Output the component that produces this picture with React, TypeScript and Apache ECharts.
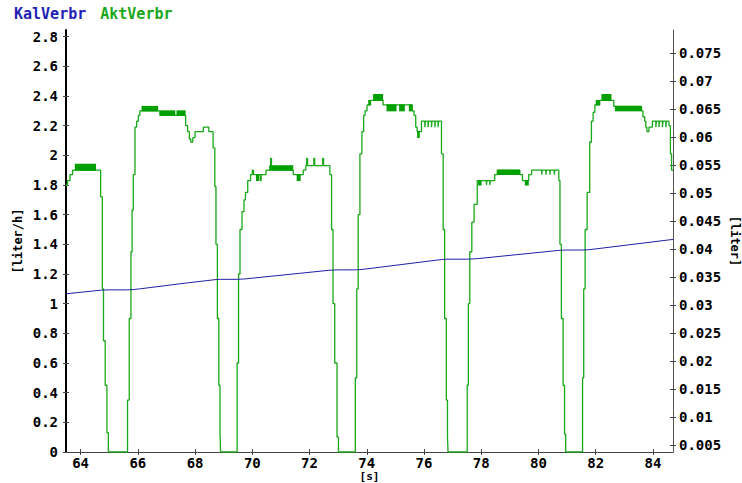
import React, { useEffect, useRef } from 'react';
import * as echarts from 'echarts';

// ---- data ----
const xTicks = [64, 66, 68, 70, 72, 74, 76, 78, 80, 82, 84];
const leftTicks = [0, 0.2, 0.4, 0.6, 0.8, 1, 1.2, 1.4, 1.6, 1.8, 2, 2.2, 2.4, 2.6, 2.8];
const rightTicks = [0.005, 0.01, 0.015, 0.02, 0.025, 0.03, 0.035, 0.04, 0.045, 0.05, 0.055, 0.06, 0.065, 0.07, 0.075];

// KalVerbr [s, liter]
const kalVerbr: [number, number][] = [
  [63.49, 0.0320], [64.73, 0.03265], [64.97, 0.0327], [65.64, 0.0327], [65.84, 0.03275],
  [66.10, 0.0329], [67.67, 0.03391], [68.73, 0.03454], [68.89, 0.03458], [69.47, 0.03458],
  [69.74, 0.03465], [72.71, 0.03621], [72.99, 0.03627], [73.60, 0.03627], [73.83, 0.03634],
  [76.62, 0.03812], [76.84, 0.03818], [77.51, 0.03818], [77.86, 0.03827], [80.71, 0.03975],
  [80.95, 0.03981], [81.54, 0.03981], [81.79, 0.03988], [84.70, 0.04171],
];

// AktVerbr [s, liter/h] (sample-and-hold)
const aktVerbr: [number, number][] = [
  [63.49, 1.80], [63.54, 1.83], [63.63, 1.87], [63.72, 1.90],
  [64.70, 1.72], [64.76, 1.10], [64.80, 0.75], [64.86, 0.45], [64.92, 0.13], [64.97, 0],
  [65.64, 0.35], [65.70, 0.90], [65.76, 1.35], [65.80, 1.63], [65.84, 1.87], [65.90, 2.19],
  [65.96, 2.23], [66.02, 2.27], [66.07, 2.30], [66.77, 2.27],
  [67.67, 2.20], [67.74, 2.16], [67.80, 2.11], [67.85, 2.09], [67.92, 2.12], [68.00, 2.16],
  [68.29, 2.19], [68.48, 2.16], [68.63, 2.05], [68.69, 1.79], [68.73, 1.40], [68.78, 0.90],
  [68.83, 0.45], [68.87, 0.15], [68.89, 0],
  [69.47, 0.60], [69.52, 1.20], [69.57, 1.50], [69.64, 1.62], [69.71, 1.70], [69.76, 1.75],
  [69.84, 1.83], [69.94, 1.87], [70.00, 1.90], [70.04, 1.87],
  [70.28, 1.83], [70.31, 1.87], [70.48, 1.90], [70.64, 1.98], [70.67, 1.90],
  [71.43, 1.87], [71.78, 1.90], [71.87, 1.93], [71.90, 1.98], [71.93, 1.93],
  [72.15, 1.98], [72.18, 1.93], [72.46, 1.98], [72.49, 1.93],
  [72.71, 1.87], [72.77, 1.50], [72.82, 1.00], [72.88, 0.60], [72.96, 0.10], [73.01, 0],
  [73.60, 0.50], [73.65, 1.10], [73.70, 1.60], [73.76, 2.01], [73.83, 2.16], [73.89, 2.27],
  [73.94, 2.30], [74.01, 2.34], [74.13, 2.37], [74.57, 2.34],
  [75.59, 2.30], [75.65, 2.27], [75.71, 2.19], [75.76, 2.16], [75.91, 2.23],
  [76.03, 2.19], [76.05, 2.23], [76.14, 2.19], [76.16, 2.23], [76.26, 2.19], [76.28, 2.23],
  [76.38, 2.19], [76.40, 2.23], [76.49, 2.19], [76.51, 2.23],
  [76.61, 2.01], [76.67, 1.50], [76.72, 0.90], [76.78, 0.35], [76.82, 0.10], [76.84, 0],
  [77.51, 0.45], [77.55, 1.00], [77.60, 1.35], [77.67, 1.55], [77.75, 1.67], [77.86, 1.83],
  [78.18, 1.80], [78.20, 1.83], [78.30, 1.80], [78.32, 1.83],
  [78.47, 1.87], [78.56, 1.90], [79.35, 1.87], [79.44, 1.83],
  [79.66, 1.87], [79.76, 1.90], [80.11, 1.87], [80.13, 1.90], [80.26, 1.87], [80.28, 1.90],
  [80.40, 1.87], [80.42, 1.90], [80.55, 1.87], [80.57, 1.90],
  [80.71, 1.83], [80.75, 1.40], [80.80, 0.90], [80.86, 0.45], [80.91, 0.12], [80.95, 0],
  [81.54, 0.50], [81.58, 1.10], [81.63, 1.50], [81.70, 1.75], [81.79, 2.09], [81.85, 2.23],
  [81.91, 2.29], [81.97, 2.34], [82.14, 2.37], [82.63, 2.33],
  [83.60, 2.30], [83.65, 2.26], [83.71, 2.23], [83.75, 2.19], [83.79, 2.16], [83.86, 2.19],
  [83.98, 2.23], [84.10, 2.19], [84.12, 2.23], [84.21, 2.19], [84.23, 2.23],
  [84.33, 2.19], [84.35, 2.23], [84.45, 2.19], [84.47, 2.23],
  [84.56, 2.20], [84.61, 2.01], [84.65, 1.90], [84.70, 1.90],
];

// rapid flicker between two adjacent levels: [tStart, tEnd, low, high]
const aktBands: [number, number, number, number][] = [
  [63.80, 64.54, 1.90, 1.94],
  [66.13, 66.71, 2.30, 2.33],
  [66.77, 67.31, 2.27, 2.30],
  [67.35, 67.67, 2.27, 2.30],
  [70.13, 70.24, 1.83, 1.87],
  [70.59, 71.43, 1.90, 1.93],
  [71.55, 71.69, 1.83, 1.87],
  [74.05, 74.13, 2.34, 2.37],
  [74.22, 74.57, 2.37, 2.41],
  [74.69, 75.04, 2.30, 2.34],
  [75.13, 75.33, 2.30, 2.34],
  [75.47, 75.59, 2.30, 2.34],
  [75.76, 75.85, 2.12, 2.16],
  [77.89, 78.01, 1.80, 1.83],
  [78.56, 79.35, 1.87, 1.90],
  [79.52, 79.66, 1.80, 1.83],
  [82.00, 82.14, 2.34, 2.37],
  [82.20, 82.55, 2.37, 2.41],
  [82.67, 83.60, 2.30, 2.33],
];

const GREEN = '#00a000';
const LINE_GREEN = '#18a818';
const BLUE = '#2020a8';
const FONT = 'DejaVu Sans Mono';
const FS = 14;

const fmt = (v: number) => String(Number(Number(v).toPrecision(6)));
const labelStyle = { fontFamily: FONT, fontWeight: 'bold' as const, fontSize: FS, color: '#000' };
const nameStyle = { fontFamily: FONT, fontWeight: 'bold' as const, fontSize: 12, color: '#000' };

export default function App() {
  const ref = useRef<HTMLDivElement>(null);
  useEffect(() => {
    const chart = echarts.init(ref.current!, null, { renderer: 'svg' });
    const xMin = 63.49, xMax = 84.7;
    const lMin = 0, lMax = 2.845;
    const rMin = 0.00375, rMax = 0.0791;
    chart.setOption({
      animation: false,
      backgroundColor: '#fff',
      legend: {
        left: 9, top: 6, padding: 0, itemGap: 9, itemWidth: 0, itemHeight: 0, icon: 'none',
        selectedMode: false,
        textStyle: { fontFamily: FONT, fontWeight: 'bold', fontSize: 15 },
        data: [
          { name: 'KalVerbr', textStyle: { color: '#2222b4' } },
          { name: 'AktVerbr', textStyle: { color: '#1aa81a' } },
        ],
      },
      grid: { left: 66, right: 69, top: 30, bottom: 31, containLabel: false, outerBoundsMode: 'none' },
      xAxis: [
        {
          type: 'value', min: xMin, max: xMax, position: 'bottom',
          axisLine: { show: true, lineStyle: { color: '#444', width: 1 } },
          axisTick: { show: true, customValues: xTicks, length: 3, lineStyle: { color: '#444' } },
          axisLabel: { customValues: xTicks, margin: 4, formatter: fmt, ...labelStyle },
          splitLine: { show: false },
          name: '[s]', nameLocation: 'middle', nameGap: 19, nameMoveOverlap: false,
          nameTextStyle: { ...nameStyle, fontSize: 11 },
        },
        {
          type: 'value', min: xMin, max: xMax, position: 'bottom',
          axisLine: { show: false },
          axisTick: { show: true, inside: true, customValues: xTicks, length: 3, lineStyle: { color: '#444' } },
          axisLabel: { show: false }, splitLine: { show: false },
        },
      ],
      yAxis: [
        {
          type: 'value', min: lMin, max: lMax, position: 'left',
          axisLine: { show: true, lineStyle: { color: '#000', width: 2 } },
          axisTick: { show: true, customValues: leftTicks, length: 3, lineStyle: { color: '#444' } },
          axisLabel: { customValues: leftTicks, margin: 8, formatter: fmt, ...labelStyle },
          splitLine: { show: false },
          name: '[liter/h]', nameLocation: 'middle', nameGap: 42, nameMoveOverlap: false,
          nameTextStyle: { ...nameStyle },
        },
        {
          type: 'value', min: rMin, max: rMax, position: 'right',
          axisLine: { show: true, lineStyle: { color: '#555', width: 1 } },
          axisTick: { show: true, customValues: rightTicks, length: 3, lineStyle: { color: '#444' } },
          axisLabel: { customValues: rightTicks, margin: 6, formatter: fmt, ...labelStyle },
          splitLine: { show: false },
          name: '[liter]', nameLocation: 'middle', nameGap: 56, nameRotate: -90, nameMoveOverlap: false,
          nameTextStyle: { ...nameStyle },
        },
        {
          type: 'value', min: lMin, max: lMax, position: 'left',
          axisLine: { show: false },
          axisTick: { show: true, inside: true, customValues: leftTicks, length: 3, lineStyle: { color: '#444' } },
          axisLabel: { show: false }, splitLine: { show: false },
        },
        {
          type: 'value', min: rMin, max: rMax, position: 'right',
          axisLine: { show: false },
          axisTick: { show: true, inside: true, customValues: rightTicks, length: 3, lineStyle: { color: '#444' } },
          axisLabel: { show: false }, splitLine: { show: false },
        },
      ],
      series: [
        {
          name: 'AktVerbr', type: 'line', xAxisIndex: 0, yAxisIndex: 0,
          step: 'end', showSymbol: false, symbol: 'none',
          lineStyle: { color: LINE_GREEN, width: 1.3 }, itemStyle: { color: LINE_GREEN },
          data: aktVerbr, z: 2,
        },
        {
          name: 'AktBand', type: 'custom', xAxisIndex: 0, yAxisIndex: 0,
          encode: { x: [0, 1], y: [2, 3] },
          data: aktBands, z: 3,
          renderItem: (params: any, api: any) => {
            const a = api.coord([api.value(0), api.value(3)]);
            const b = api.coord([api.value(1), api.value(2)]);
            return {
              type: 'rect',
              shape: { x: a[0], y: a[1] - 0.5, width: b[0] - a[0], height: b[1] - a[1] + 1 },
              style: { fill: GREEN },
            };
          },
        },
        {
          name: 'KalVerbr', type: 'line', xAxisIndex: 0, yAxisIndex: 1,
          showSymbol: false, symbol: 'none',
          lineStyle: { color: BLUE, width: 1 }, itemStyle: { color: BLUE },
          data: kalVerbr, z: 4,
        },
      ],
    });
    return () => chart.dispose();
  }, []);
  return <div ref={ref} style={{ position: 'fixed', left: 0, top: 0, width: 742, height: 483 }} />;
}
